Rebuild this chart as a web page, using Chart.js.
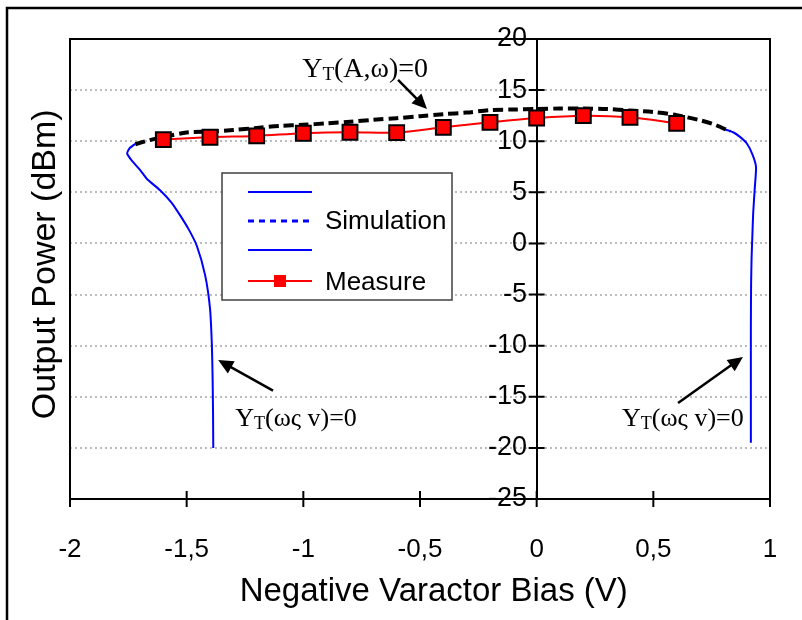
<!DOCTYPE html>
<html>
<head>
<meta charset="utf-8">
<title>Output power vs varactor bias</title>
<script src="https://cdn.jsdelivr.net/npm/chart.js@4.4.1/dist/chart.umd.min.js"></script>
<style>
    html, body { margin: 0; padding: 0; background: #fff; }
    #wrap { position: relative; width: 802px; height: 620px; }
</style>
</head>
<body>
<div id="wrap"><canvas id="power-chart" width="802" height="620"></canvas></div>
<script>
// measured points (red squares)
const measureBias = [-1.6, -1.4, -1.2, -1.0, -0.8, -0.6, -0.4, -0.2, 0, 0.2, 0.4, 0.6];
const measurePower = [10.16, 10.39, 10.52, 10.78, 10.88, 10.84, 11.36, 11.85, 12.27, 12.5, 12.34, 11.75];

// simulation, Y_T(A,w)=0 branch (black dashed)
const simBias = [-1.72, -1.66, -1.6, -1.5, -1.4, -1.3, -1.2, -1.1, -1.0, -0.9, -0.8, -0.7, -0.6, -0.5,
    -0.4, -0.3, -0.2, -0.1, 0, 0.1, 0.2, 0.3, 0.4, 0.5, 0.6, 0.7, 0.76, 0.83];
const simPower = [9.7, 10.1, 10.4, 10.85, 10.95, 11.1, 11.3, 11.5, 11.6, 11.75, 11.9, 12.1, 12.25, 12.45,
    12.65, 12.8, 13.05, 13.1, 13.15, 13.2, 13.2, 13.15, 13.0, 12.85, 12.55, 12.05, 11.65, 10.95];

// Y_T(w,v)=0 branches (blue)
const leftBias = [-1.72, -1.745, -1.755, -1.735, -1.70, -1.671, -1.614, -1.565, -1.528, -1.493, -1.457,
    -1.421, -1.40, -1.392, -1.389, -1.387, -1.386];
const leftPower = [9.75, 9.3, 8.8, 8.1, 7.2, 6.33, 5.2, 4.0, 2.75, 1.45, -0.2, -3.1, -6.35, -9.9, -13, -16.5, -20];
const rightBias = [0.80, 0.842, 0.87, 0.90, 0.925, 0.94, 0.935, 0.928, 0.924, 0.921, 0.919, 0.918, 0.918, 0.918];
const rightPower = [11.2, 10.88, 10.45, 9.8, 8.7, 7.5, 5.5, 3.0, 0.5, -1.5, -4.0, -8, -14, -19.5];

// axes
const xTicks = [-2, -1.5, -1, -0.5, 0, 0.5, 1];
const yTicks = [20, 15, 10, 5, 0, -5, -10, -15, -20, -25];

// annotations (data units): label anchor = left / baseline
const noteText = ['(A,\u03c9)=0', '(\u03c9\u03c2 v)=0', '(\u03c9\u03c2 v)=0'];
const noteX = [-1.005, -1.292, 0.366];
const noteY = [16.27, -17.9, -17.9];
const arrowFrom = [[-0.594, 16.0], [-1.13, -14.4], [0.606, -15.6]];
const arrowTo = [[-0.47, 13.15], [-1.365, -11.4], [0.884, -11.1]];

const SANS = 'Arial, "Liberation Sans", sans-serif';
const SERIF = '"Times New Roman", "Liberation Serif", serif';

function toPoints(xs, ys) {
    return xs.map((x, i) => ({ x: x, y: ys[i] }));
}

function fmt(v) {
    return String(v).replace('.', ',');
}

function drawArrow(ctx, x1, y1, x2, y2) {
    const ang = Math.atan2(y2 - y1, x2 - x1);
    const head = 15, half = 7;
    ctx.beginPath();
    ctx.moveTo(x1, y1);
    ctx.lineTo(x2 - Math.cos(ang) * head * 0.8, y2 - Math.sin(ang) * head * 0.8);
    ctx.lineWidth = 2.5;
    ctx.stroke();
    ctx.beginPath();
    ctx.moveTo(x2, y2);
    ctx.lineTo(x2 - Math.cos(ang) * head - Math.sin(ang) * half, y2 - Math.sin(ang) * head + Math.cos(ang) * half);
    ctx.lineTo(x2 - Math.cos(ang) * head + Math.sin(ang) * half, y2 - Math.sin(ang) * head - Math.cos(ang) * half);
    ctx.closePath();
    ctx.fill();
}

const decor = {
    id: 'decor',
    beforeDraw(chart) {
        const ctx = chart.ctx;
        ctx.save();
        ctx.fillStyle = '#fff';
        ctx.fillRect(0, 0, chart.width, chart.height);
        // outer figure frame
        ctx.strokeStyle = '#000';
        ctx.lineWidth = 2.5;
        ctx.beginPath();
        ctx.moveTo(802, 8);
        ctx.lineTo(7, 8);
        ctx.lineTo(7, 620);
        ctx.stroke();
        ctx.restore();
    },
    afterDraw(chart) {
        const { ctx, chartArea: a } = chart;
        const x = chart.scales.x, y = chart.scales.y;
        ctx.save();
        ctx.strokeStyle = '#000';
        ctx.fillStyle = '#000';
        ctx.lineWidth = 2;
        ctx.strokeRect(a.left, a.top, a.right - a.left, a.bottom - a.top);

        // crossing tick marks
        const x0 = x.getPixelForValue(0);
        ctx.beginPath();
        yTicks.forEach(v => {
            const py = y.getPixelForValue(v);
            ctx.moveTo(x0 - 8, py);
            ctx.lineTo(x0 + 8, py);
        });
        xTicks.forEach(v => {
            const px = x.getPixelForValue(v);
            ctx.moveTo(px, a.bottom - 8);
            ctx.lineTo(px, a.bottom + 8);
        });
        ctx.stroke();

        // legend box
        const lx = 222, ly = 173, lw = 230, lh = 127;
        ctx.fillStyle = '#fff';
        ctx.fillRect(lx, ly, lw, lh);
        ctx.strokeStyle = '#404040';
        ctx.lineWidth = 1.5;
        ctx.strokeRect(lx, ly, lw, lh);
        const rows = [192, 221, 250, 281];
        ctx.lineWidth = 2;
        ctx.strokeStyle = '#0000ff';
        [0, 2].forEach(i => {
            ctx.beginPath();
            ctx.moveTo(248, rows[i]);
            ctx.lineTo(312, rows[i]);
            ctx.stroke();
        });
        ctx.setLineDash([6, 5]);
        ctx.lineWidth = 3;
        ctx.beginPath();
        ctx.moveTo(248, rows[1]);
        ctx.lineTo(314, rows[1]);
        ctx.stroke();
        ctx.setLineDash([]);
        ctx.strokeStyle = '#ff0000';
        ctx.lineWidth = 2;
        ctx.beginPath();
        ctx.moveTo(248, rows[3]);
        ctx.lineTo(312, rows[3]);
        ctx.stroke();
        ctx.fillStyle = '#ff0000';
        ctx.fillRect(274, rows[3] - 6, 12, 12);
        ctx.fillStyle = '#000';
        ctx.font = '26px ' + SANS;
        ctx.textBaseline = 'middle';
        ctx.textAlign = 'left';
        ctx.fillText('Simulation', 325, rows[1] + 1);
        ctx.fillText('Measure', 325, rows[3] + 2);

        // arrows
        ctx.strokeStyle = '#000';
        ctx.fillStyle = '#000';
        arrowFrom.forEach((f, i) => {
            const t = arrowTo[i];
            drawArrow(ctx, x.getPixelForValue(f[0]), y.getPixelForValue(f[1]),
                x.getPixelForValue(t[0]), y.getPixelForValue(t[1]));
        });

        // annotation labels: Y with subscript T
        ctx.textBaseline = 'alphabetic';
        noteText.forEach((txt, i) => {
            const size = i === 0 ? 28 : 26;
            let px = x.getPixelForValue(noteX[i]);
            const py = y.getPixelForValue(noteY[i]);
            ctx.font = size + 'px ' + SERIF;
            ctx.fillText('Y', px, py);
            px += ctx.measureText('Y').width;
            ctx.font = Math.round(size * 0.68) + 'px ' + SERIF;
            ctx.fillText('T', px, py + 3);
            px += ctx.measureText('T').width;
            ctx.font = size + 'px ' + SERIF;
            ctx.fillText(txt, px, py);
        });
        ctx.restore();
    }
};

const chart = new Chart(document.getElementById('power-chart'), {
    type: 'scatter',
    data: {
        datasets: [
            {
                label: 'Measure',
                data: toPoints(measureBias, measurePower),
                showLine: true,
                borderColor: '#ff0000',
                borderWidth: 2,
                pointStyle: 'rect',
                pointRadius: 10.5,
                pointBackgroundColor: '#ff0000',
                pointBorderColor: '#000',
                pointBorderWidth: 2,
                tension: 0.3
            },
            {
                label: 'Simulation',
                data: toPoints(simBias, simPower),
                showLine: true,
                borderColor: '#000',
                borderWidth: 4,
                borderDash: [10, 5],
                pointRadius: 0,
                tension: 0.3
            },
            {
                label: 'left branch',
                data: toPoints(leftBias, leftPower),
                showLine: true,
                borderColor: '#0000ff',
                borderWidth: 2,
                pointRadius: 0,
                tension: 0.2
            },
            {
                label: 'right branch',
                data: toPoints(rightBias, rightPower),
                showLine: true,
                borderColor: '#0000ff',
                borderWidth: 2,
                pointRadius: 0,
                tension: 0.2
            }
        ]
    },
    options: {
        responsive: false,
        animation: false,
        events: [],
        layout: { padding: { top: 39, right: 32, left: 0, bottom: 0 } },
        plugins: { legend: { display: false }, tooltip: { enabled: false } },
        scales: {
            x: {
                type: 'linear',
                position: 'bottom',
                min: -2,
                max: 1,
                afterBuildTicks: s => { s.ticks = xTicks.map(v => ({ value: v })); },
                ticks: {
                    callback: v => fmt(v),
                    color: '#000',
                    font: { size: 26, family: SANS },
                    padding: 4,
                    maxRotation: 0
                },
                // invisible long tick marks push the labels down without
                // adding side padding (ticks.padding would)
                grid: {
                    display: true,
                    drawOnChartArea: false,
                    drawTicks: true,
                    tickLength: 31,
                    tickColor: 'rgba(0,0,0,0)'
                },
                border: { display: true, color: '#000', width: 2 },
                title: {
                    display: true,
                    text: '   Negative Varactor Bias (V)',
                    color: '#000',
                    font: { size: 33, family: SANS },
                    padding: { bottom: 8, top: 0 }
                },
                afterFit: s => { s.height = 121; }
            },
            y: {
                type: 'linear',
                position: { x: 0 },
                min: -25,
                max: 20,
                afterBuildTicks: s => { s.ticks = yTicks.map(v => ({ value: v })); },
                ticks: {
                    // labels sit right-aligned on the axis line, pad them off it
                    callback: v => fmt(v) + ' \u200a',
                    color: '#000',
                    font: { size: 27, family: SANS }
                },
                grid: {
                    drawTicks: false,
                    lineWidth: 2,
                    color: c => (c.tick && (c.tick.value === 20 || c.tick.value === -25)) ? 'rgba(0,0,0,0)' : '#bcbcbc'
                },
                border: { display: true, color: '#000', width: 2, dash: [2, 3] }
            },
            yTitle: {
                type: 'linear',
                position: 'left',
                min: -25,
                max: 20,
                ticks: { display: false },
                grid: { display: false, drawTicks: false },
                border: { display: false },
                title: {
                    display: true,
                    text: ' Output Power (dBm)',
                    color: '#000',
                    font: { size: 34, family: SANS },
                    padding: { top: 25, bottom: 0 }
                },
                afterFit: s => { s.width = 70; }
            }
        }
    },
    plugins: [decor]
});
</script>
</body>
</html>
